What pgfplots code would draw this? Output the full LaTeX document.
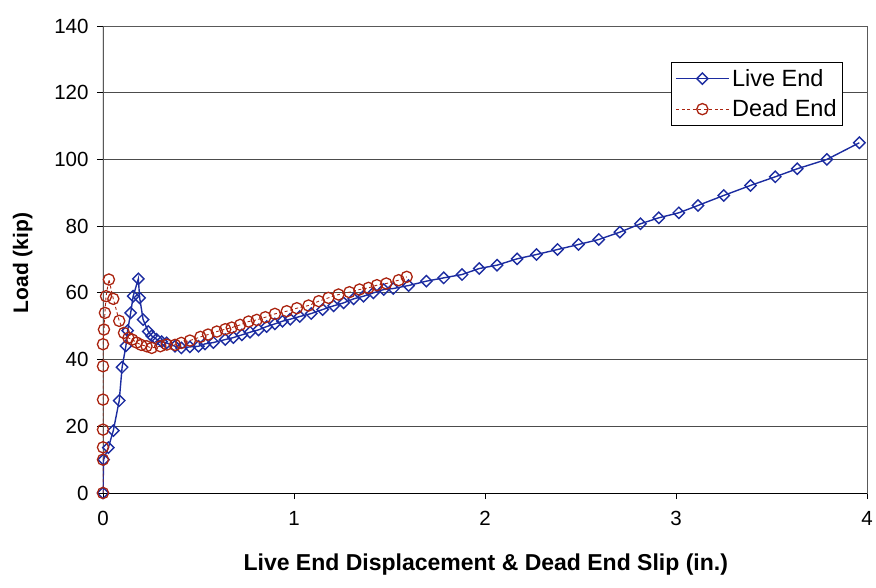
\documentclass[border=0pt]{standalone}
\usepackage{fontspec}
\setmainfont{Liberation Sans}
\usepackage{pgfplots}
\pgfplotsset{compat=1.18}
\definecolor{liveblue}{RGB}{28,44,160}
\definecolor{deadred}{RGB}{170,35,15}
\begin{document}
\begin{tikzpicture}
\begin{axis}[
  scale only axis, width=764pt, height=467pt,
  xmin=0, xmax=4, ymin=0, ymax=140,
  xtick={0,1,2,3,4}, ytick={0,20,...,140},
  xtick pos=bottom, ytick pos=left,
  tick align=outside, major tick length=6pt,
  every tick/.style={black, line width=0.8pt},
  ymajorgrids, grid style={black!70, line width=0.8pt},
  axis line style={black!65, line width=0.8pt},
  /pgf/number format/assume math mode=true,
  ticklabel style={font=\fontsize{20.5}{24}\selectfont},
  xticklabel style={yshift=-9pt},
  yticklabel style={xshift=-5pt},
  xlabel={\bfseries Live End Displacement \& Dead End Slip (in.)},
  ylabel={\bfseries Load (kip)},
  xlabel style={font=\fontsize{23}{26}\selectfont, at={(axis description cs:0.501,-0.154)}, anchor=center},
  ylabel style={font=\fontsize{21}{25}\selectfont, at={(axis description cs:-0.105,0.4925)}, rotate=0, anchor=center},
  legend style={at={(rel axis cs:0.9686,0.923)}, anchor=north east,
    draw=black, line width=0.8pt, fill=white,
    font=\fontsize{23.5}{26}\selectfont, inner xsep=4pt, inner ysep=5pt,
    row sep=8pt,
    nodes={inner sep=2pt},
    /tikz/every even column/.style={column sep=5pt}},
  legend cell align=left,
  legend image code/.code={\draw[mark repeat=2,mark phase=2,#1] plot coordinates {(0pt,0pt) (26pt,0pt) (53pt,0pt)};},
]
\addplot[liveblue, line width=1.4pt, mark=square, mark size=4pt,
  mark options={rotate=45, solid, line width=1.4pt, fill=none}] coordinates {
(0,0) (0.003,10) (0.028,13.6) (0.054,18.7) (0.085,27.7) (0.100,37.7)
(0.120,44.1) (0.129,48.7) (0.145,54) (0.158,59) (0.185,64.2) (0.192,58.5)
(0.210,52) (0.237,48.4) (0.255,47.1) (0.280,46.1) (0.307,45.4) (0.333,45)
(0.377,44) (0.410,43.5) (0.455,43.8) (0.500,44) (0.534,44.7) (0.578,45.1)
(0.640,46) (0.683,46.6) (0.727,47.4) (0.770,48.2) (0.814,48.9) (0.857,49.9)
(0.900,50.7) (0.940,51.5) (0.980,52.1) (1.030,52.9) (1.090,53.8) (1.150,55)
(1.207,56.1) (1.260,57) (1.312,58.2) (1.364,59) (1.416,60) (1.470,61)
(1.520,61.3) (1.600,62.2) (1.693,63.5) (1.784,64.5) (1.880,65.5) (1.970,67.3)
(2.063,68.3) (2.168,70.2) (2.270,71.5) (2.380,73) (2.490,74.5) (2.596,76)
(2.706,78.2) (2.814,80.7) (2.910,82.5) (3.015,84) (3.115,86.2) (3.250,89.2)
(3.390,92.2) (3.520,94.8) (3.635,97.2) (3.790,100) (3.960,105)
};
\addlegendentry{Live End}
\addplot[deadred, line width=0.9pt, dash pattern=on 3pt off 2.5pt, mark=o, mark size=5.6pt,
  mark options={solid, line width=1.3pt, fill=none}] coordinates {
(0,0) (0,10) (0,13.7) (0,19) (0,28) (0,38) (0,44.6) (0.005,49) (0.010,54)
(0.016,59) (0.031,64) (0.054,58.2) (0.085,51.6) (0.110,48) (0.133,46.5)
(0.153,46) (0.176,45.1) (0.200,44.4) (0.228,44) (0.255,43.5) (0.300,44)
(0.334,44.5) (0.377,44.4) (0.410,45) (0.455,45.7) (0.510,46.8) (0.550,47.5)
(0.596,48.4) (0.640,49.1) (0.674,49.6) (0.718,50.4) (0.762,51.4) (0.805,51.9)
(0.850,52.7) (0.900,53.7) (0.962,54.5) (1.015,55.4) (1.076,56.2) (1.130,57.5)
(1.180,58.5) (1.233,59.5) (1.290,60.2) (1.343,61) (1.390,61.5) (1.434,62.3)
(1.483,62.8) (1.548,63.8) (1.590,64.8)
};
\addlegendentry{Dead End}
\draw[black, line width=1pt] (rel axis cs:0,1) -- (rel axis cs:0,0) -- (rel axis cs:1,0);
\coordinate (sw) at (rel axis cs:0,0);
\end{axis}
\pgfresetboundingbox
\path[use as bounding box] ([shift={(-103pt,-94pt)}]sw) rectangle ([shift={(773pt,493pt)}]sw);
\end{tikzpicture}
\end{document}
